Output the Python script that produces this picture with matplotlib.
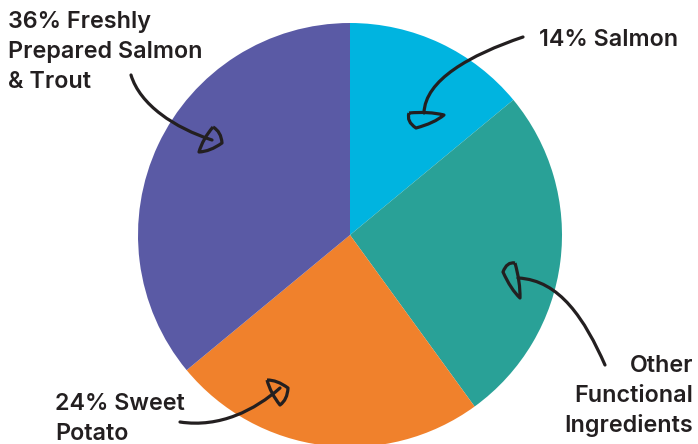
import matplotlib.pyplot as plt
from matplotlib.path import Path
from matplotlib.patches import PathPatch

# Pie data (percent)
labels = ["Salmon", "Other Functional Ingredients", "Sweet Potato", "Freshly Prepared Salmon & Trout"]
shares = [14, 26, 24, 36]
colors = ["#00B4E0", "#29A197", "#F0812C", "#5A5AA5"]

# Label text, one entry per line
label_lines = {
    "Salmon": ["14% Salmon"],
    "Other Functional Ingredients": ["Other", "Functional", "Ingredients"],
    "Sweet Potato": ["24% Sweet", "Potato"],
    "Freshly Prepared Salmon & Trout": ["36% Freshly", "Prepared Salmon", "& Trout"],
}

W, H = 698, 444
fig = plt.figure(figsize=(W / 100, H / 100), dpi=100)
fig.patch.set_facecolor("white")

# pie axes in pixel units (y up)
ax = fig.add_axes([0, 0, 1, 1])
ax.pie(shares, colors=colors, startangle=90, counterclock=False,
       center=(350, H - 235), radius=212,
       wedgeprops=dict(linewidth=0))
ax.set_xlim(0, W)
ax.set_ylim(0, H)
ax.set_aspect("equal")
ax.axis("off")

# overlay in pixel coords (y down) for labels and hand-drawn arrows
ov = fig.add_axes([0, 0, 1, 1])
ov.set_xlim(0, W)
ov.set_ylim(H, 0)
ov.axis("off")
ov.patch.set_alpha(0)

ink = "#231F20"
font = dict(family=["Inter", "DejaVu Sans"], fontsize=16.8, fontweight="semibold", color=ink)

# (x, first baseline, alignment)
label_pos = {
    "Salmon": (539, 46, "left"),
    "Other Functional Ingredients": (693, 372, "right"),
    "Sweet Potato": (55, 410, "left"),
    "Freshly Prepared Salmon & Trout": (8, 28, "left"),
}
for name in labels:
    x, y0, ha = label_pos[name]
    for i, line in enumerate(label_lines[name]):
        ov.text(x, y0 + i * 30, line, ha=ha, va="baseline", **font)

# arrow curves (cubic bezier) and their looped heads
curves = [
    [(523, 37), (470, 55), (425, 80), (424, 113)],
    [(131, 75), (140, 105), (175, 128), (212, 140)],
    [(605, 365), (585, 320), (560, 280), (518, 278)],
    [(180, 422), (220, 428), (255, 410), (280, 388)],
]
heads = [
    [(409, 113), (444, 115), (416, 128)],
    [(213, 127), (222, 143), (199, 152)],
    [(515, 263), (503, 272), (520, 298)],
    [(267, 380), (288, 388), (280, 405)],
]
for pts in curves:
    p = Path(pts, [Path.MOVETO, Path.CURVE4, Path.CURVE4, Path.CURVE4])
    ov.add_patch(PathPatch(p, fill=False, edgecolor=ink, lw=2.3, capstyle="round"))

# heads: loops through the three corners, sides bulging outward
for tri in heads:
    cx = sum(p[0] for p in tri) / 3
    cy = sum(p[1] for p in tri) / 3
    verts, codes = [tri[0]], [Path.MOVETO]
    for i in range(3):
        a, b = tri[i], tri[(i + 1) % 3]
        mx, my = (a[0] + b[0]) / 2, (a[1] + b[1]) / 2
        ctrl = (mx + 0.6 * (mx - cx), my + 0.6 * (my - cy))
        verts += [ctrl, b]
        codes += [Path.CURVE3, Path.CURVE3]
    ov.add_patch(PathPatch(Path(verts, codes), fill=False, edgecolor=ink, lw=2.3,
                           joinstyle="round"))

fig.savefig("out.png", dpi=100, facecolor="white")
